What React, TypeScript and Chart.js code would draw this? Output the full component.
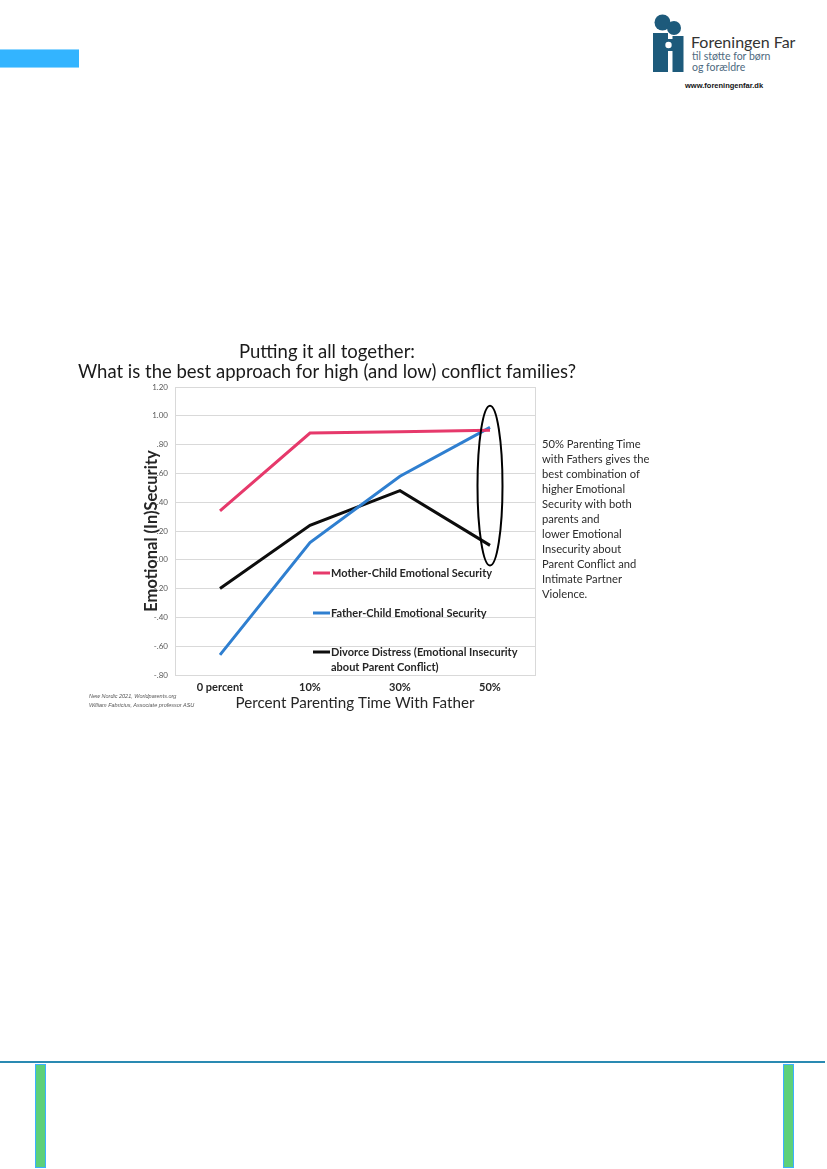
import React, { useEffect, useRef } from "react";
import { Chart, registerables } from "chart.js";

Chart.register(...registerables);

// ---------- data ----------
const categories = ["0 percent", "10%", "30%", "50%"];
const motherChild = [0.34, 0.88, 0.89, 0.9];
const fatherChild = [-0.66, 0.12, 0.58, 0.92];
const divorceDistress = [-0.2, 0.24, 0.48, 0.1];
const seriesLabels = [
  "Mother-Child Emotional Security",
  "Father-Child Emotional Security",
  "Divorce Distress (Emotional Insecurity\nabout Parent Conflict)",
];
const seriesColors = ["#e6396b", "#2f7fd0", "#0d0d0d"];
const yMin = -0.8;
const yMax = 1.2;
const yStep = 0.2;
const titleLines = [
  "Putting it all together:",
  "What is the best approach for high (and low) conflict families?",
];
const xAxisTitle = "Percent Parenting Time With Father";
const yAxisTitle = "Emotional (In)Security";
const highlightCategory = "50%";
const highlightRange = [-0.04, 1.07];
const noteLines = [
  "50% Parenting Time",
  "with Fathers gives the",
  "best combination of",
  "higher Emotional",
  "Security with both",
  "parents and",
  "lower Emotional",
  "Insecurity about",
  "Parent Conflict and",
  "Intimate Partner",
  "Violence.",
];
const sourceLines = [
  "New Nordic 2021, Worldparents.org",
  "William Fabricius, Associate professor ASU",
];

const FONT = "Lato, 'Open Sans', sans-serif";

function fmtTick(v: number | string) {
  const n = Number(v);
  if (Math.abs(n) < 1e-9) return ".00";
  const s = Math.abs(n).toFixed(2);
  const t = s.startsWith("0") ? s.slice(1) : s;
  return (n < 0 ? "-" : "") + t;
}

const titlePlugin = {
  id: "twoLineTitle",
  afterDraw(chart: any, _a: any, opts: any) {
    const { ctx } = chart;
    ctx.save();
    ctx.font = `normal ${opts.size}px ${FONT}`;
    ctx.fillStyle = opts.color;
    ctx.textAlign = "center";
    ctx.textBaseline = "middle";
    opts.lines.forEach((l: string, i: number) => {
      ctx.fillText(l, opts.x, opts.y + i * opts.lineHeight);
    });
    ctx.restore();
  },
};

const borderPlugin = {
  id: "plotBorder",
  beforeDatasetsDraw(chart: any, _a: any, opts: any) {
    const { ctx, chartArea } = chart;
    ctx.save();
    ctx.strokeStyle = opts.color;
    ctx.lineWidth = 1;
    ctx.strokeRect(
      Math.round(chartArea.left) + 0.5,
      Math.round(chartArea.top) + 0.5,
      Math.round(chartArea.right - chartArea.left),
      Math.round(chartArea.bottom - chartArea.top)
    );
    ctx.restore();
  },
};

const legendPlugin = {
  id: "insideLegend",
  afterDatasetsDraw(chart: any, _a: any, opts: any) {
    const { ctx, chartArea } = chart;
    ctx.save();
    chart.data.datasets.forEach((ds: any, i: number) => {
      const p = opts.positions[i];
      const x = chartArea.left + p.dx;
      const y = chartArea.top + p.dy;
      ctx.strokeStyle = ds.borderColor;
      ctx.lineWidth = 3;
      ctx.beginPath();
      ctx.moveTo(x, y);
      ctx.lineTo(x + opts.sampleWidth, y);
      ctx.stroke();
      ctx.fillStyle = opts.color;
      ctx.font = `bold ${opts.size}px ${FONT}`;
      ctx.textAlign = "left";
      ctx.textBaseline = "middle";
      String(ds.label)
        .split("\n")
        .forEach((line: string, k: number) => {
          ctx.fillText(line, x + opts.sampleWidth + 1, y + k * opts.lineSpacing);
        });
    });
    ctx.restore();
  },
};

const ellipsePlugin = {
  id: "highlightEllipse",
  afterDatasetsDraw(chart: any, _a: any, opts: any) {
    const { ctx, scales } = chart;
    const idx = categories.indexOf(opts.category);
    const cx = scales.x.getPixelForValue(idx);
    const yTop = scales.y.getPixelForValue(opts.range[1]);
    const yBot = scales.y.getPixelForValue(opts.range[0]);
    ctx.save();
    ctx.strokeStyle = "#000";
    ctx.lineWidth = 2;
    ctx.beginPath();
    ctx.ellipse(cx, (yTop + yBot) / 2, opts.rx, (yBot - yTop) / 2, 0, 0, Math.PI * 2);
    ctx.stroke();
    ctx.restore();
  },
};

function ChartBox() {
  const ref = useRef<HTMLCanvasElement | null>(null);
  useEffect(() => {
    if (!ref.current) return;
    const series = [motherChild, fatherChild, divorceDistress];
    const chart = new Chart(ref.current, {
      type: "line",
      data: {
        labels: categories,
        datasets: series.map((d, i) => ({
          label: seriesLabels[i],
          data: d,
          borderColor: seriesColors[i],
          backgroundColor: seriesColors[i],
          borderWidth: 3,
          pointRadius: 0,
          tension: 0,
          fill: false,
        })),
      },
      options: {
        responsive: false,
        animation: false,
        layout: { padding: { top: 57, left: 80, right: 65, bottom: 0 } },
        plugins: {
          legend: { display: false },
          title: { display: false },
          tooltip: { enabled: false },
          twoLineTitle: { lines: titleLines, x: 267, y: 22, lineHeight: 20, size: 18.5, color: "#1a1a1a" },
          plotBorder: { color: "#d9d9d9" },
          insideLegend: {
            positions: [
              { dx: 138, dy: 186 },
              { dx: 138, dy: 226 },
              { dx: 138, dy: 265 },
            ],
            sampleWidth: 17,
            lineSpacing: 15,
            size: 11,
            color: "#262626",
          },
          highlightEllipse: { category: highlightCategory, range: highlightRange, rx: 12.5 },
        } as any,
        scales: {
          x: {
            type: "category",
            offset: true,
            grid: { display: false, drawTicks: false },
            border: { display: false },
            ticks: {
              font: { family: FONT, size: 11, weight: "bold" },
              color: "#262626",
              padding: 6,
            },
            title: {
              display: true,
              text: xAxisTitle,
              font: { family: FONT, size: 15.2 },
              color: "#262626",
              padding: { top: 0, bottom: 2.6 },
            },
            afterFit: (s: any) => {
              s.height = 40;
            },
          },
          y: {
            min: yMin,
            max: yMax,
            grid: { color: "#d9d9d9", drawTicks: false },
            border: { display: false },
            ticks: {
              stepSize: yStep,
              callback: (v: any) => fmtTick(v),
              font: { family: FONT, size: 8 },
              color: "#595959",
              padding: 7,
            },
            title: {
              display: true,
              text: yAxisTitle,
              font: { family: FONT, size: 16.5, weight: "bold" },
              color: "#262626",
              padding: { top: 2, bottom: 0 },
            },
            afterFit: (s: any) => {
              s.width = 35;
            },
          },
        },
      } as any,
      plugins: [borderPlugin, legendPlugin, ellipsePlugin, titlePlugin],
    });
    return () => chart.destroy();
  }, []);
  return (
    <canvas
      ref={ref}
      width={540}
      height={385}
      style={{ position: "absolute", left: 60, top: 330, width: 540, height: 385 }}
    />
  );
}

function Logo() {
  const c = "#1d5a7b";
  return (
    <svg width={36} height={62} viewBox="0 0 36 62" style={{ position: "absolute", left: 650, top: 12 }}>
      <circle cx={12.5} cy={10.5} r={8} fill={c} />
      <circle cx={24} cy={16} r={7} fill={c} />
      <rect x={3} y={21} width={15} height={39} fill={c} />
      <rect x={22.5} y={24} width={11} height={36} fill={c} />
      <rect x={18} y={27} width={5} height={12} fill={c} />
      <circle cx={18.5} cy={33} r={3.2} fill="#fff" />
    </svg>
  );
}

export default function App() {
  return (
    <div
      style={{
        position: "absolute",
        left: 0,
        top: 0,
        width: 827,
        height: 1169,
        overflow: "hidden",
        background: "#fff",
        fontFamily: FONT,
      }}
    >
      <div
        style={{
          position: "absolute",
          left: 0,
          top: 49,
          width: 79,
          height: 19,
          background: "#33b4ff",
          borderTop: "1px solid #8fd6ff",
          borderBottom: "1px solid #8fd6ff",
          boxSizing: "border-box",
        }}
      />
      <Logo />
      <div style={{ position: "absolute", left: 691, top: 32, fontSize: 16, lineHeight: "20px", color: "#333" }}>
        Foreningen Far
      </div>
      <div style={{ position: "absolute", left: 692, top: 51, fontSize: 10.5, lineHeight: "11px", color: "#4e6a80" }}>
        til støtte for børn
        <br />
        og forældre
      </div>
      <div
        style={{
          position: "absolute",
          left: 685,
          top: 81,
          fontSize: 7.5,
          lineHeight: "10px",
          fontWeight: "bold",
          fontFamily: "'Liberation Sans', Arial, sans-serif",
          color: "#111",
        }}
      >
        www.foreningenfar.dk
      </div>

      <ChartBox />

      <div style={{ position: "absolute", left: 542, top: 436, fontSize: 11.2, lineHeight: "15px", color: "#2b2b2b" }}>
        {noteLines.map((l, i) => (
          <div key={i} style={{ whiteSpace: "nowrap" }}>
            {l}
          </div>
        ))}
      </div>

      <div
        style={{
          position: "absolute",
          left: 89,
          top: 692,
          fontSize: 5.5,
          lineHeight: "9px",
          fontStyle: "italic",
          fontFamily: "'Liberation Sans', Arial, sans-serif",
          color: "#555",
        }}
      >
        {sourceLines.map((l, i) => (
          <div key={i} style={{ whiteSpace: "nowrap" }}>
            {l}
          </div>
        ))}
      </div>

      <div style={{ position: "absolute", left: 0, top: 1061, width: 825, height: 2, background: "#2a8ab2" }} />
      <div
        style={{
          position: "absolute",
          left: 35,
          top: 1064,
          width: 11,
          height: 104,
          background: "#5dd07a",
          border: "1px solid #3cb0ff",
          boxSizing: "border-box",
        }}
      />
      <div
        style={{
          position: "absolute",
          left: 783,
          top: 1064,
          width: 11,
          height: 104,
          background: "#5dd07a",
          border: "1px solid #3cb0ff",
          boxSizing: "border-box",
        }}
      />
    </div>
  );
}
